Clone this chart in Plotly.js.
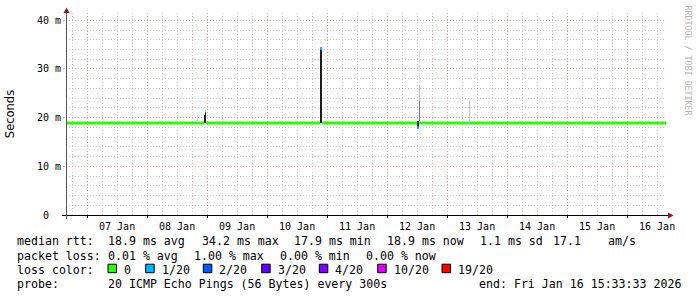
<!DOCTYPE html>
<html><head><meta charset="utf-8">
<script src="https://cdn.plot.ly/plotly-3.0.1.min.js"></script>
<style>html,body{margin:0;padding:0;background:#fff}#chart{width:697px;height:297px}</style>
</head><body><div id="chart"></div>
<script>
// ---------- data ----------
const xStart = '2026-01-06 15:33:33';
const xEnd   = '2026-01-16 15:33:33';
const stepMinutes = 24; // one consolidated sample per pixel column

// median RTT (ms) drawn in the 0-loss colour (null = no 0-loss median there)
const greenTime = ['2026-01-06 15:33:33','2026-01-08 22:50','2026-01-08 22:51',
  '2026-01-08 23:14','2026-01-08 23:28','2026-01-08 23:29',
  '2026-01-08 23:36','2026-01-10 21:10','2026-01-10 21:11',
  '2026-01-10 21:58','2026-01-12 12:00','2026-01-12 12:01',
  '2026-01-12 12:44','2026-01-13 08:38','2026-01-13 08:39',
  '2026-01-13 08:58','2026-01-16 15:33:33'];
const greenMs = [18.9,18.9,null, 21.3,21.3,null, 18.9,18.9,null, 18.9,18.9,null, 18.9,18.9,null, 18.9,18.9];

// median RTT (ms) with 1/20 packet loss
const blueTime = ['2026-01-10 21:10','2026-01-10 21:58','2026-01-10 21:59',
  '2026-01-12 12:00','2026-01-12 12:44','2026-01-12 12:45',
  '2026-01-13 08:38','2026-01-13 08:58'];
const blueMs = [34.2,34.2,null, 17.9,17.9,null, 18.9,18.9];

// smoke (spread of the individual pings), grouped by density
const smokeDenseTime = ['2026-01-08 23:00','2026-01-08 23:24','2026-01-10 21:22','2026-01-10 21:46','2026-01-12 12:10','2026-01-12 12:34'];
const smokeDenseLow  = [19.0,19.0,19.0,19.0,17.9,17.9];
const smokeDenseHigh = [20.6,21.1,34.2,34.2,19.4,19.4];

const smokeHeavyTime = ['2026-01-12 12:58'];
const smokeHeavyLow  = [19.4];
const smokeHeavyHigh = [23.5];

const smokeMediumTime = ['2026-01-12 12:58','2026-01-13 08:48'];
const smokeMediumLow  = [23.5,19.4];
const smokeMediumHigh = [26.7,23.5];

const smokeLightTime = ['2026-01-12 12:58','2026-01-08 20:00'];
const smokeLightLow  = [26.7,19.3];
const smokeLightHigh = [33.6,20.6];

// axis labels
const yTickVals = [0,10,20,30,40];
const yTickText = ['0\u00a0\u00a0','10 m','20 m','30 m','40 m'];

// legend text
const rttLabel = 'median rtt:';
const rttItems = ['18.9 ms avg','34.2 ms max','17.9 ms min','18.9 ms now','1.1 ms sd','17.1','am/s'];
const lossLabel = 'packet loss:';
const lossItems = ['0.01 % avg','1.00 % max','0.00 % min','0.00 % now'];
const lossColorLabel = 'loss color:';
const lossLevels = ['0','1/20','2/20','3/20','4/20','10/20','19/20'];
const lossColors = ['#26ff00','#00b8ff','#0059ff','#5e00ff','#7e00ff','#dd00ff','#ff0000'];
const probeLabel = 'probe:';
const probeText = '20 ICMP Echo Pings (56 Bytes) every 300s';
const endText = 'end: Fri Jan 16 15:33:33 2026';
const creditText = 'RRDTOOL / TOBI OETIKER';

// ---------- layout helpers (pixel -> paper) ----------
const W = 697, H = 297, L = 66, R = 666, T = 13, B = 215;
const px = x => (x - L) / (R - L);
const py = y => (B - y) / (B - T);
const MONO = 'DejaVu Sans Mono';

const stepMs = stepMinutes * 60000;
function smokeTrace(t, lo, hi, color) {
  return {type:'bar', x:t, base:lo, y:hi.map((h,i)=>h-lo[i]),
    width:t.map(()=>stepMs), marker:{color:color, line:{width:0}},
    hoverinfo:'skip', showlegend:false};
}

const traces = [
  smokeTrace(smokeLightTime, smokeLightLow, smokeLightHigh, '#dcdcdc'),
  smokeTrace(smokeMediumTime, smokeMediumLow, smokeMediumHigh, '#bdbdbd'),
  smokeTrace(smokeHeavyTime, smokeHeavyLow, smokeHeavyHigh, '#787878'),
  smokeTrace(smokeDenseTime, smokeDenseLow, smokeDenseHigh, '#1c1c1c'),
  {type:'scatter', mode:'lines', x:greenTime, y:greenMs, connectgaps:false,
   line:{color:lossColors[0], width:3}, hoverinfo:'skip', showlegend:false},
  {type:'scatter', mode:'lines', x:blueTime, y:blueMs, connectgaps:false,
   line:{color:lossColors[1], width:3}, hoverinfo:'skip', showlegend:false}
];

const ann = [];
const shapes = [];
function txt(x, y, s, extra) {
  ann.push(Object.assign({xref:'paper', yref:'paper', x:px(x), y:py(y), text:s,
    showarrow:false, xanchor:'left', yanchor:'middle', borderpad:0,
    font:{family:MONO, size:11.6, color:'#000'}}, extra||{}));
}
const row1 = 241.5, row2 = 255.5, row3 = 269.5, row4 = 283.5;
txt(16, row1, rttLabel);
[107.3,200.7,292.7,386,479.3,552,607.3].forEach((x,i)=>txt(x,row1,rttItems[i]));
txt(16, row2, lossLabel);
[107.3,193.3,279.3,365.3].forEach((x,i)=>txt(x,row2,lossItems[i]));
txt(16, row3, lossColorLabel);
const sqX = [108,145.7,203.3,261.7,319.3,377.7,442];
lossLevels.forEach((lv,i)=>{
  shapes.push({type:'rect', xref:'paper', yref:'paper', x0:px(sqX[i]), x1:px(sqX[i]+8.5),
    y0:py(264.2), y1:py(272.7), fillcolor:lossColors[i], line:{color:'#000', width:1}, layer:'above'});
  txt(sqX[i]+15, row3, lv);
});
txt(16, row4, probeLabel);
txt(107.3, row4, probeText);
txt(478.3, row4, endText);
// credit
ann.push({xref:'paper', yref:'paper', x:px(687.5), y:py(60), text:creditText, textangle:90,
  showarrow:false, xanchor:'center', yanchor:'middle', borderpad:0,
  font:{family:MONO, size:8.3, color:'#b4b4b4'}});

// axes lines and arrows
shapes.push({type:'line', xref:'paper', yref:'paper', x0:px(62), x1:px(669), y0:py(215.5), y1:py(215.5), line:{color:'#000', width:1}, layer:'above'});
shapes.push({type:'line', xref:'paper', yref:'paper', x0:px(66.5), x1:px(66.5), y0:py(219), y1:py(11), line:{color:'#555', width:1}, layer:'above'});
shapes.push({type:'path', xref:'paper', yref:'paper',
  path:`M ${px(63.5)} ${py(13)} L ${px(69.5)} ${py(13)} L ${px(66.5)} ${py(7.5)} Z`,
  fillcolor:'#8b1a1a', line:{width:0}, layer:'above'});
shapes.push({type:'path', xref:'paper', yref:'paper',
  path:`M ${px(668)} ${py(212.5)} L ${px(668)} ${py(218.5)} L ${px(673.5)} ${py(215.5)} Z`,
  fillcolor:'#8b1a1a', line:{width:0}, layer:'above'});

const layout = {
  width:W, height:H, margin:{l:L, r:W-R, t:T, b:H-B},
  paper_bgcolor:'#fff', plot_bgcolor:'#fff', showlegend:false, barmode:'overlay', bargap:0,
  xaxis:{type:'date', range:[xStart, xEnd], tick0:'2026-01-07', dtick:86400000,
    tickformat:'%d %b', ticklabelmode:'period', showline:false, zeroline:false,
    showgrid:true, gridcolor:'#e8a8a8', griddash:'1px,2px', gridwidth:1,
    ticks:'outside', ticklen:2, tickcolor:'#000', tickwidth:1,
    tickfont:{family:MONO, size:10, color:'#000'},
    minor:{dtick:6*3600000, tick0:'2026-01-07', showgrid:true, gridcolor:'#cfcfcf', griddash:'1px,2px', gridwidth:1, ticks:''},
    fixedrange:true},
  yaxis:{range:[0,41.5], tickvals:yTickVals, ticktext:yTickText, showline:false, zeroline:false,
    showgrid:true, gridcolor:'#e8a8a8', griddash:'1px,2px', gridwidth:1,
    ticks:'outside', ticklen:2, tickcolor:'#e8a8a8',
    tickfont:{family:MONO, size:10, color:'#000'},
    minor:{dtick:2, showgrid:true, gridcolor:'#cfcfcf', griddash:'1px,2px', gridwidth:1, ticks:''},
    title:{text:'Seconds', font:{family:'DejaVu Sans', size:11.5, color:'#000'}, standoff:19},
    fixedrange:true},
  annotations:ann, shapes:shapes
};
Plotly.newPlot('chart', traces, layout, {staticPlot:true, displayModeBar:false});
</script></body></html>
